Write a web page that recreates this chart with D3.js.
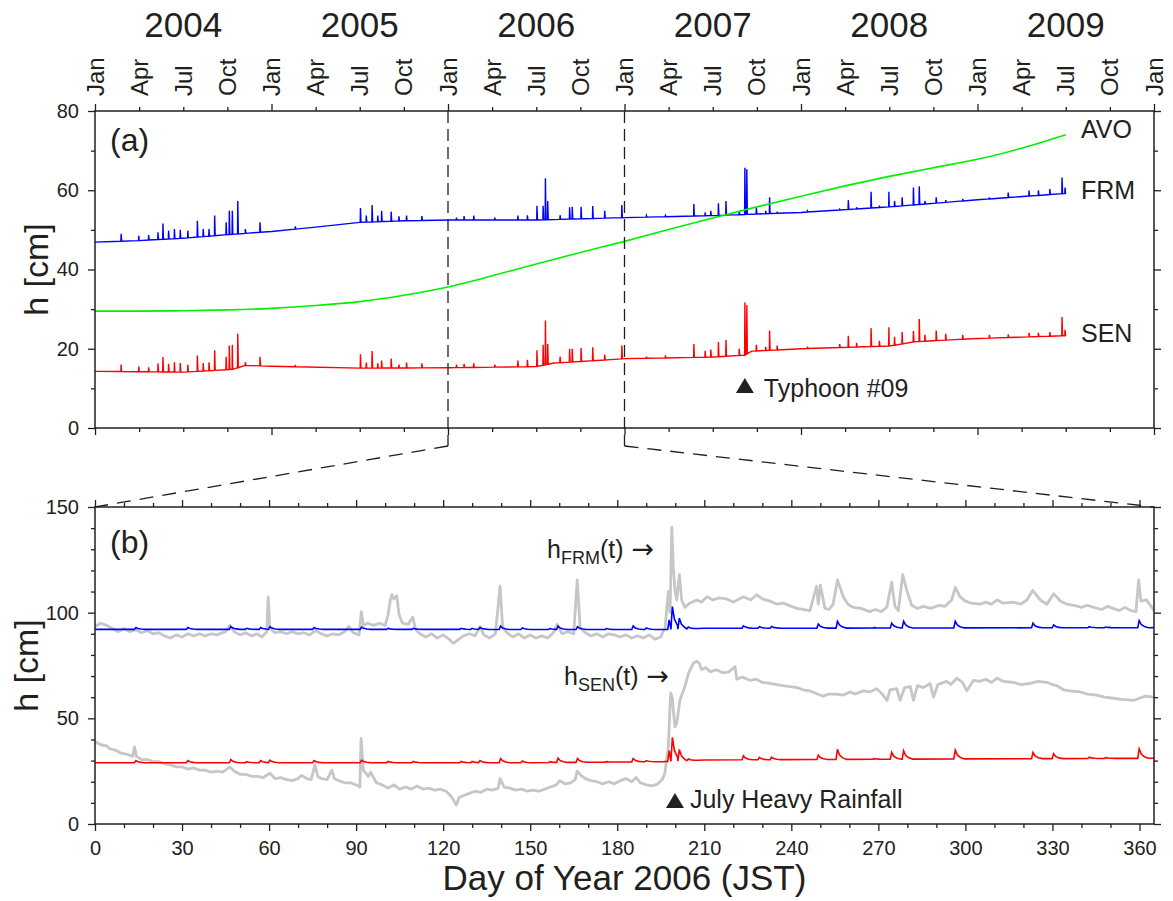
<!DOCTYPE html>
<html><head><meta charset="utf-8">
<script src="https://cdn.jsdelivr.net/npm/d3@7"></script>
<style>body{margin:0;background:#fff}text{font-family:"Liberation Sans",Arial,Helvetica,sans-serif;fill:#231f20}</style>
</head><body>
<svg id="c" width="1173" height="901"></svg>
<script>
// ---------------- DATA: panel (a) ----------------
const yearLabels = ["2004","2005","2006","2007","2008","2009"];
const monthLabels = ["Jan","Apr","Jul","Oct"];
const seriesLabels = ["AVO","FRM","SEN"];

const avoYear  = [2004.0,2004.25,2004.5,2004.75,2005.0,2005.25,2005.5,2005.75,2006.0,2006.25,2006.5,2006.75,2007.0,2007.25,2007.5,2007.75,2008.0,2008.25,2008.5,2008.75,2009.0,2009.25,2009.5];
const avoValue = [29.5,29.5,29.6,29.8,30.2,30.9,31.9,33.5,35.6,38.4,41.4,44.3,47.1,50.1,53.0,55.8,58.5,61.1,63.5,65.7,67.8,70.6,74.0];

const frmBaseYear  = [2004.0,2004.25,2004.5,2004.75,2005.0,2005.25,2005.5,2005.75,2006.0,2006.5,2007.0,2007.5,2008.0,2008.5,2009.0,2009.5];
const frmBaseValue = [46.9,47.3,47.9,48.8,49.6,50.7,51.9,52.3,52.5,52.5,53.1,53.6,54.4,55.8,57.6,59.2];

const senBaseYear  = [2004.0,2004.5,2004.78,2004.85,2005.0,2005.5,2006.0,2006.5,2006.6,2006.9,2007.0,2007.5,2007.68,2007.72,2008.0,2008.5,2008.65,2009.0,2009.5];
const senBaseValue = [14.3,14.1,14.8,15.8,15.6,15.1,15.2,15.5,16.4,17.2,17.5,17.9,18.4,19.4,20.0,20.7,21.8,22.6,23.3];

// rainfall events (decimal year) with the peak level reached at FRM and SEN
const eventYear = [2004.148,2004.248,2004.304,2004.357,2004.385,2004.417,2004.450,2004.483,2004.526,2004.580,2004.613,2004.646,2004.678,2004.743,2004.761,2004.778,2004.809,2004.852,2004.935,2005.135,2005.504,2005.537,2005.570,2005.602,2005.624,2005.678,2005.722,2005.765,2005.852,2006.048,2006.091,2006.146,2006.265,2006.396,2006.450,2006.504,2006.539,2006.552,2006.565,2006.635,2006.689,2006.704,2006.754,2006.820,2006.888,2006.985,2007.124,2007.232,2007.393,2007.457,2007.489,2007.532,2007.575,2007.650,2007.682,2007.693,2007.747,2007.800,2007.822,2007.865,2008.036,2008.219,2008.268,2008.315,2008.397,2008.444,2008.498,2008.530,2008.573,2008.637,2008.670,2008.702,2008.766,2008.820,2008.916,2009.067,2009.174,2009.292,2009.345,2009.410,2009.479,2009.496];
const frmEventPeak = [49.0,48.5,48.7,49.4,51.6,49.8,50.2,50.0,49.8,52.3,50.2,50.2,53.6,51.9,54.8,54.8,57.3,50.2,51.9,50.9,55.5,53.6,56.3,53.6,54.8,54.6,53.4,53.6,53.5,53.1,53.5,53.6,53.1,53.6,53.7,56.1,56.1,63.0,57.3,53.7,55.7,55.8,55.8,56.0,54.8,56.3,53.6,53.6,56.5,54.4,54.8,56.7,57.3,54.8,65.7,65.3,55.7,54.8,58.2,54.4,54.8,55.2,57.5,55.7,59.6,56.1,59.6,57.3,58.2,60.7,61.0,57.3,58.2,57.5,57.8,58.2,59.4,59.9,60.0,60.3,63.2,60.7];
const senEventPeak = [16.0,15.5,15.3,16.3,17.9,16.2,16.6,16.4,16.0,18.3,16.4,16.6,19.6,18.0,20.8,21.0,23.8,16.6,18.0,15.9,18.6,16.5,19.4,16.3,17.0,17.5,16.0,16.5,16.3,16.0,16.2,16.3,16.0,17.0,17.2,19.6,21.0,27.1,21.2,18.0,20.0,20.0,20.2,20.4,18.5,20.8,18.0,18.3,21.2,19.5,19.8,21.7,22.2,20.0,31.7,31.0,21.0,20.5,24.6,20.8,20.5,21.2,23.3,21.5,25.2,22.0,25.4,23.0,24.2,24.5,27.5,23.5,24.6,23.8,23.5,23.5,23.6,24.0,24.0,24.2,28.0,24.8];
const typhoonYear = 2007.682;

// ---------------- DATA: panel (b), day of year 2006 ----------------
const modelFrmBaseDay = [0,100,196,210,300,365];
const modelFrmBaseValue = [92.1,92.1,92.0,92.6,92.8,92.9];
const modelSenBaseDay = [0,150,196,210,300,365];
const modelSenBaseValue = [29.0,29.0,29.5,30.3,30.8,31.1];
const modelEventDay = [14.1,32.0,46.8,52.3,57.1,60.3,75.5,91.9,101.0,109.7,126.2,130.0,132.7,139.8,147.3,156.8,159.6,166.3,176.3,185.5,190.0,197.9,199.0,201.4,204.5,223.5,229.0,233.2,249.3,255.9,268.5,274.6,278.7,296.5,323.3,330.4,342.7,348.4,359.9];
const modelFrmPeak = [93.0,93.0,93.5,92.6,93.0,93.4,93.0,93.2,92.6,92.6,92.6,92.6,93.0,93.6,92.8,92.5,93.6,93.4,92.5,93.7,92.8,96.6,102.9,97.4,93.2,93.8,93.4,93.5,94.6,95.9,92.9,95.0,95.9,95.9,95.0,94.2,93.4,93.2,96.2];
const modelSenPeak = [30.0,30.0,30.5,29.5,30.0,30.2,30.0,30.2,29.6,29.6,29.6,29.6,30.0,31.0,29.8,29.5,31.2,31.0,29.5,31.0,30.0,34.7,41.0,35.3,30.8,32.3,31.5,31.6,32.6,35.3,30.9,33.9,34.7,35.0,33.9,33.2,31.6,31.4,35.6];
const julyRainDay = 199.9;

const obsFrm = [[0,93.5],[2,95.0],[4,94.0],[6,92.5],[8,91.0],[10,92.5],[12,91.0],[14,92.0],[16,90.5],[18,91.5],[20,90.0],[22,90.5],[24,89.0],[26,88.0],[28,89.5],[30,88.5],[32,90.0],[34,89.0],[36,90.0],[38,89.0],[40,90.0],[42,89.5],[45,91.0],[46.5,94.0],[48,91.0],[50,89.5],[52,90.5],[54,89.0],[56,90.0],[57.5,88.5],[59.2,91.0],[59.7,107.5],[60.3,92.5],[62,90.5],[64,91.0],[66,90.0],[68,91.0],[70,90.0],[72,90.5],[74,89.5],[76,91.5],[78,90.0],[80,89.0],[82,90.0],[84,89.5],[86,91.0],[87.5,93.5],[89,90.5],[91,89.5],[91.8,100.5],[92.5,94.0],[94,95.0],[96,94.0],[98,95.0],[100,94.0],[101,99.0],[101.8,106.0],[102.3,108.5],[103,106.5],[104,108.0],[104.8,99.0],[106,95.0],[108,94.5],[109.5,98.0],[110.5,92.0],[112,90.0],[114,88.5],[116,90.0],[118,88.0],[120,89.5],[122,87.5],[123.5,85.5],[125,87.0],[127,89.0],[129,90.0],[131,89.0],[132.7,93.5],[134,89.5],[136,88.0],[138,90.0],[139.6,112.5],[140.5,93.0],[142,90.5],[144,88.5],[146,90.0],[148,88.0],[150,89.5],[152,88.0],[154,89.0],[156,88.0],[158,90.5],[159.3,94.5],[161,90.0],[163,91.0],[165,90.0],[166.2,115.5],[167.2,93.0],[169,90.5],[171,89.0],[173,90.0],[175,88.5],[177,90.0],[179,89.5],[181,88.5],[183,89.5],[185,88.0],[187,89.0],[189,88.0],[191,89.5],[193,87.5],[195,88.5],[196.5,93.0],[197.6,109.9],[198.2,100.0],[198.8,140.5],[199.3,122.0],[199.9,110.5],[200.5,106.0],[201.4,118.0],[202.2,106.0],[203.3,102.5],[205,104.5],[207.4,106.0],[209,105.0],[211,107.5],[213,106.0],[215,107.0],[217.7,106.5],[220,105.0],[223.5,107.5],[226,106.0],[228,108.5],[230,106.5],[232.6,105.5],[235,104.0],[237.2,104.5],[240,103.0],[242,102.0],[244,101.5],[246.4,101.0],[248.7,112.5],[249.3,104.0],[250,113.0],[251.6,102.0],[253,101.5],[254.4,104.0],[255.9,115.5],[257.9,107.5],[259.5,104.0],[261.3,102.5],[264,102.0],[267,100.5],[269,101.5],[271,100.5],[272.9,102.5],[274.6,114.5],[275.7,103.0],[276.9,101.0],[278.4,118.0],[279.8,110.5],[281.5,103.5],[283.5,102.0],[285.5,103.0],[288,102.0],[291,103.5],[293,103.0],[295.3,106.0],[296.5,112.0],[298.2,107.5],[300,105.5],[302,104.5],[305,104.0],[307,105.0],[309,104.0],[311,106.0],[313,104.5],[316.6,105.0],[319,104.0],[321.2,106.0],[323.2,110.5],[325.8,106.0],[328.1,104.0],[330.4,109.0],[332.7,105.5],[335,104.0],[337.3,103.5],[340,102.5],[342,103.5],[344.2,102.5],[347,101.5],[349,103.0],[351,102.0],[353,101.0],[355,102.5],[357,101.0],[358.8,100.5],[359.7,115.5],[360.5,105.5],[362.4,106.0],[364,103.0],[365,101.0]];

const obsSen = [[0,39.0],[2,37.5],[4,37.0],[5.2,35.5],[7,35.0],[9,33.5],[11,33.0],[13,32.0],[13.6,36.5],[14.3,32.0],[16,30.5],[18,30.5],[20,29.5],[22,29.5],[24,28.5],[26,28.0],[28,27.0],[30,27.0],[32,26.0],[34,26.5],[36,25.5],[38,25.5],[40,24.5],[42,25.0],[44,24.5],[46.5,27.0],[48,25.0],[50,23.5],[52,23.5],[54,22.5],[56,22.5],[58,22.0],[60.3,24.0],[62,21.5],[64,22.0],[66,21.0],[68,20.5],[70,21.5],[71.2,23.0],[73,21.5],[74.5,21.0],[75.8,28.0],[76.8,22.5],[78,21.5],[80,21.0],[81.6,25.5],[82.5,21.5],[84,20.5],[86,19.5],[88,19.5],[90,18.5],[91.3,17.5],[91.7,40.5],[92.5,25.5],[94.2,22.5],[95,24.5],[97,19.5],[99,18.5],[101,17.0],[103,18.5],[105,16.5],[107,17.5],[109,16.5],[111,18.0],[113,16.5],[115,17.0],[117,16.0],[119,16.5],[121,15.5],[122.5,13.5],[123.5,11.5],[124.5,9.0],[125.5,12.5],[127,13.5],[129,14.5],[131,15.5],[133,15.0],[135,16.5],[137,16.0],[139,17.0],[139.6,21.5],[141,17.5],[143,17.0],[145,16.0],[147,16.5],[149,15.5],[151,16.0],[153,15.5],[155,16.5],[157,17.5],[159,18.5],[160.2,20.5],[162,19.0],[164,19.5],[165.5,21.0],[166.2,25.0],[167.5,23.0],[169,21.5],[171,20.5],[173,20.0],[175,19.0],[177,20.0],[179,19.0],[181,20.5],[183,21.5],[185,20.0],[186.5,22.0],[188,19.5],[190,18.5],[192,18.0],[194,19.0],[195.5,21.0],[196.4,24.0],[197.6,36.5],[198.4,62.0],[198.9,60.0],[199.9,46.0],[200.5,47.5],[201.6,58.5],[203.3,65.0],[204.5,71.0],[206.2,76.0],[207.4,77.0],[208.3,76.0],[209.1,73.0],[210.5,74.0],[212,72.0],[214,73.0],[216.6,71.5],[218.5,72.0],[220.6,74.5],[221.2,68.5],[223,69.5],[225.8,68.0],[228,68.5],[230,67.0],[232.6,66.5],[235,66.0],[237,65.5],[239.5,65.0],[242,64.5],[244,63.5],[246.4,63.0],[249,61.5],[251,60.5],[253,61.5],[255.6,61.5],[258,61.0],[260.2,62.5],[262,61.5],[264.8,63.0],[267,62.5],[269.4,64.0],[271,62.0],[273,58.5],[274,63.5],[276.3,64.0],[277.5,58.5],[279,64.5],[281,65.0],[282.1,58.5],[283.5,65.5],[285.5,64.5],[287.8,66.5],[289,60.0],[290.5,66.0],[293.5,67.5],[295,66.0],[297,69.0],[299,67.0],[300.5,63.0],[302.8,68.0],[305,67.5],[307,68.5],[309,67.0],[310.9,69.0],[313,67.5],[316.6,67.0],[319,66.0],[322.3,66.5],[325,67.5],[328.1,67.0],[330,66.0],[331.5,65.5],[333.8,63.5],[336,63.0],[339.5,62.5],[342,61.5],[345.3,61.0],[348,60.0],[351,59.5],[354,59.0],[357.9,58.5],[360,59.5],[362,60.5],[365,60.0]];

// ---------------- LAYOUT ----------------
const L = 95, R = 1154, T1 = 111, B1 = 428, T2 = 507, B2 = 824;
const INK = "#231f20";
const svg = d3.select("#c");

const xYear = d3.scaleLinear().domain([2004, 2010]).range([L, R]);
const yA = d3.scaleLinear().domain([0, 80]).range([B1, T1]);
const xDay = d3.scaleLinear().domain([0, 365]).range([L, R]);
const yB = d3.scaleLinear().domain([0, 150]).range([B2, T2]);

svg.append("defs").call(d => {
  d.append("clipPath").attr("id", "clipA").append("rect").attr("x", L).attr("y", T1).attr("width", R - L).attr("height", B1 - T1);
  d.append("clipPath").attr("id", "clipB").append("rect").attr("x", L).attr("y", T2).attr("width", R - L).attr("height", B2 - T2);
});

function styleAxis(g) {
  g.select(".domain").remove();
  g.selectAll("line").attr("stroke", INK).attr("stroke-width", 1.3);
  g.selectAll("text").attr("font-size", 20).attr("fill", INK).attr("font-family", '"Liberation Sans",Arial,sans-serif');
}
function axis(gen, tr) {
  svg.append("g").attr("transform", tr).call(gen).call(styleAxis);
}

// ---------- panel (a) axes ----------
const yearTicks = d3.range(2004, 2010.01, 1);
const quarterTicks = d3.range(2004, 2010.01, 0.25).filter(v => Math.abs(v - Math.round(v)) > 1e-6);
axis(d3.axisTop(xYear).tickValues(yearTicks).tickSize(7).tickFormat(""), `translate(0,${T1})`);
axis(d3.axisTop(xYear).tickValues(quarterTicks).tickSize(4).tickFormat(""), `translate(0,${T1})`);
axis(d3.axisBottom(xYear).tickValues(yearTicks).tickSize(7).tickFormat(""), `translate(0,${B1})`);
axis(d3.axisBottom(xYear).tickValues(quarterTicks).tickSize(4).tickFormat(""), `translate(0,${B1})`);
axis(d3.axisLeft(yA).tickValues([0, 20, 40, 60, 80]).tickSize(7).tickPadding(9), `translate(${L},0)`);
axis(d3.axisLeft(yA).tickValues([10, 30, 50, 70]).tickSize(4).tickFormat(""), `translate(${L},0)`);
axis(d3.axisRight(yA).tickValues([0, 20, 40, 60, 80]).tickSize(7).tickFormat(""), `translate(${R},0)`);
axis(d3.axisRight(yA).tickValues([10, 30, 50, 70]).tickSize(4).tickFormat(""), `translate(${R},0)`);

// month labels
const allQuarter = d3.range(2004, 2010.01, 0.25);
svg.append("g").selectAll("text").data(allQuarter).join("text")
  .attr("transform", d => `translate(${xYear(d) + 8.5},96) rotate(-90)`)
  .attr("font-size", 24).attr("text-anchor", "start")
  .text((d, i) => monthLabels[i % 4]);
// year labels
svg.append("g").selectAll("text").data(yearLabels).join("text")
  .attr("x", d => xYear(+d + 0.5)).attr("y", 37)
  .attr("font-size", 35).attr("text-anchor", "middle").text(d => d);

// ---------- panel (b) axes ----------
const day30 = d3.range(0, 361, 30);
const day10 = d3.range(0, 366, 10).filter(v => v % 30 !== 0);
axis(d3.axisTop(xDay).tickValues(day30).tickSize(7).tickFormat(""), `translate(0,${T2})`);
axis(d3.axisTop(xDay).tickValues(day10).tickSize(4).tickFormat(""), `translate(0,${T2})`);
axis(d3.axisBottom(xDay).tickValues(day30).tickSize(7).tickPadding(10), `translate(0,${B2})`);
axis(d3.axisBottom(xDay).tickValues(day10).tickSize(4).tickFormat(""), `translate(0,${B2})`);
const h50 = [0, 50, 100, 150];
const h10 = d3.range(10, 150, 10).filter(v => v % 50 !== 0);
axis(d3.axisLeft(yB).tickValues(h50).tickSize(7).tickPadding(9), `translate(${L},0)`);
axis(d3.axisLeft(yB).tickValues(h10).tickSize(4).tickFormat(""), `translate(${L},0)`);
axis(d3.axisRight(yB).tickValues(h50).tickSize(7).tickFormat(""), `translate(${R},0)`);
axis(d3.axisRight(yB).tickValues(h10).tickSize(4).tickFormat(""), `translate(${R},0)`);

// ---------- series builders ----------
function spikeSeries(bx, by, ex, ep) {
  const base = d3.scaleLinear().domain(bx).range(by);
  const pts = bx.map((x, i) => [x, by[i]]);
  ex.forEach((t, i) => { const b = base(t); pts.push([t - 0.0015, b], [t, ep[i]], [t + 0.003, b]); });
  return pts.sort((a, b) => a[0] - b[0]);
}
function modelSeries(bx, by, ex, ep) {
  const base = d3.scaleLinear().domain(bx).range(by);
  const glyph = [[-0.5, 0], [0, 1], [0.7, 0.45], [1.8, 0.15], [3.2, 0]];
  const pts = [];
  bx.forEach((x, i) => {
    if (!ex.some(d => x >= d - 0.5 && x <= d + 3.2)) pts.push([x, by[i]]);
  });
  ex.forEach((d, i) => {
    const next = i + 1 < ex.length ? ex[i + 1] : Infinity;
    const amp = ep[i] - base(d);
    glyph.forEach(([dx, f]) => {
      const x = d + dx;
      if (dx > 0 && x >= next - 0.5) return;
      pts.push([x, base(x) + f * amp]);
    });
  });
  return pts.sort((a, b) => a[0] - b[0]);
}

// ---------- panel (a) lines ----------
const gA = svg.append("g").attr("clip-path", "url(#clipA)");
const lineA = d3.line().x(d => xYear(d[0])).y(d => yA(d[1]));
gA.append("path").datum(spikeSeries(senBaseYear, senBaseValue, eventYear, senEventPeak))
  .attr("d", lineA).attr("fill", "none").attr("stroke", "#ff0000").attr("stroke-width", 1.4);
gA.append("path").datum(spikeSeries(frmBaseYear, frmBaseValue, eventYear, frmEventPeak))
  .attr("d", lineA).attr("fill", "none").attr("stroke", "#0000ff").attr("stroke-width", 1.4);
gA.append("path").datum(avoYear.map((y, i) => [y, avoValue[i]]))
  .attr("d", lineA.curve(d3.curveMonotoneX)).attr("fill", "none").attr("stroke", "#00f000").attr("stroke-width", 1.6);

// ---------- panel (b) lines ----------
const gB = svg.append("g").attr("clip-path", "url(#clipB)");
const lineB = d3.line().x(d => xDay(d[0])).y(d => yB(d[1]));
gB.append("path").datum(obsFrm).attr("d", lineB).attr("fill", "none").attr("stroke", "#c6c6c6").attr("stroke-width", 2.8).attr("stroke-linejoin", "round");
gB.append("path").datum(obsSen).attr("d", lineB).attr("fill", "none").attr("stroke", "#c6c6c6").attr("stroke-width", 2.8).attr("stroke-linejoin", "round");
gB.append("path").datum(modelSeries(modelFrmBaseDay, modelFrmBaseValue, modelEventDay, modelFrmPeak))
  .attr("d", lineB).attr("fill", "none").attr("stroke", "#0000ff").attr("stroke-width", 1.6);
gB.append("path").datum(modelSeries(modelSenBaseDay, modelSenBaseValue, modelEventDay, modelSenPeak))
  .attr("d", lineB).attr("fill", "none").attr("stroke", "#ff0000").attr("stroke-width", 1.6);

// ---------- frames ----------
[[T1, B1], [T2, B2]].forEach(([t, b]) => {
  svg.append("rect").attr("x", L).attr("y", t).attr("width", R - L).attr("height", b - t)
    .attr("fill", "none").attr("stroke", INK).attr("stroke-width", 1.5);
});

// ---------- zoom connectors ----------
const x06 = xYear(2006), x07 = xYear(2007), yC = B1 + 18;
[[x06, T1, x06, yC, "12,6"], [x07, T1, x07, yC, "12,6"], [x06, yC, L, T2, "14,9"], [x07, yC, R, T2, "14,9"]].forEach(([a, b, c, d, da]) => {
  svg.append("line").attr("x1", a).attr("y1", b).attr("x2", c).attr("y2", d)
    .attr("stroke", INK).attr("stroke-width", 1.3).attr("stroke-dasharray", da);
});

// ---------- annotations ----------
function tri(x, yb) {
  svg.append("path").attr("d", `M${x - 9},${yb} L${x + 9},${yb} L${x},${yb - 15} Z`).attr("fill", INK);
}
svg.append("text").attr("x", 110).attr("y", 151).attr("font-size", 32).text("(a)");
svg.append("text").attr("x", 110).attr("y", 553).attr("font-size", 32).text("(b)");
const lblY = [138, 199, 342];
seriesLabels.forEach((s, i) => svg.append("text").attr("x", 1081).attr("y", lblY[i]).attr("font-size", 25).text(s));

tri(xYear(typhoonYear), 393);
svg.append("text").attr("x", xYear(typhoonYear) + 19).attr("y", 397).attr("font-size", 25).text("Typhoon #09");

tri(xDay(julyRainDay), 808);
svg.append("text").attr("x", xDay(julyRainDay) + 15).attr("y", 808).attr("font-size", 25).text("July Heavy Rainfall");

function hLabel(x, y, sub) {
  const t = svg.append("text").attr("x", x).attr("y", y).attr("font-size", 25);
  t.append("tspan").text("h");
  t.append("tspan").attr("font-size", 18).attr("dy", 6).text(sub);
  t.append("tspan").attr("dy", -6).text("(t)");
  t.append("tspan").attr("dx", 8).attr("font-family", '"DejaVu Sans",sans-serif').attr("font-size", 27).text("\u2192");
}
hLabel(547, 558, "FRM");
hLabel(564, 685, "SEN");

// axis titles
svg.append("text").attr("transform", `translate(48,${(T1 + B1) / 2}) rotate(-90)`).attr("text-anchor", "middle").attr("font-size", 34).text("h [cm]");
svg.append("text").attr("transform", `translate(38,${(T2 + B2) / 2}) rotate(-90)`).attr("text-anchor", "middle").attr("font-size", 34).text("h [cm]");
svg.append("text").attr("x", (L + R) / 2).attr("y", 890).attr("text-anchor", "middle").attr("font-size", 35).text("Day of Year 2006 (JST)");
</script>
</body></html>
